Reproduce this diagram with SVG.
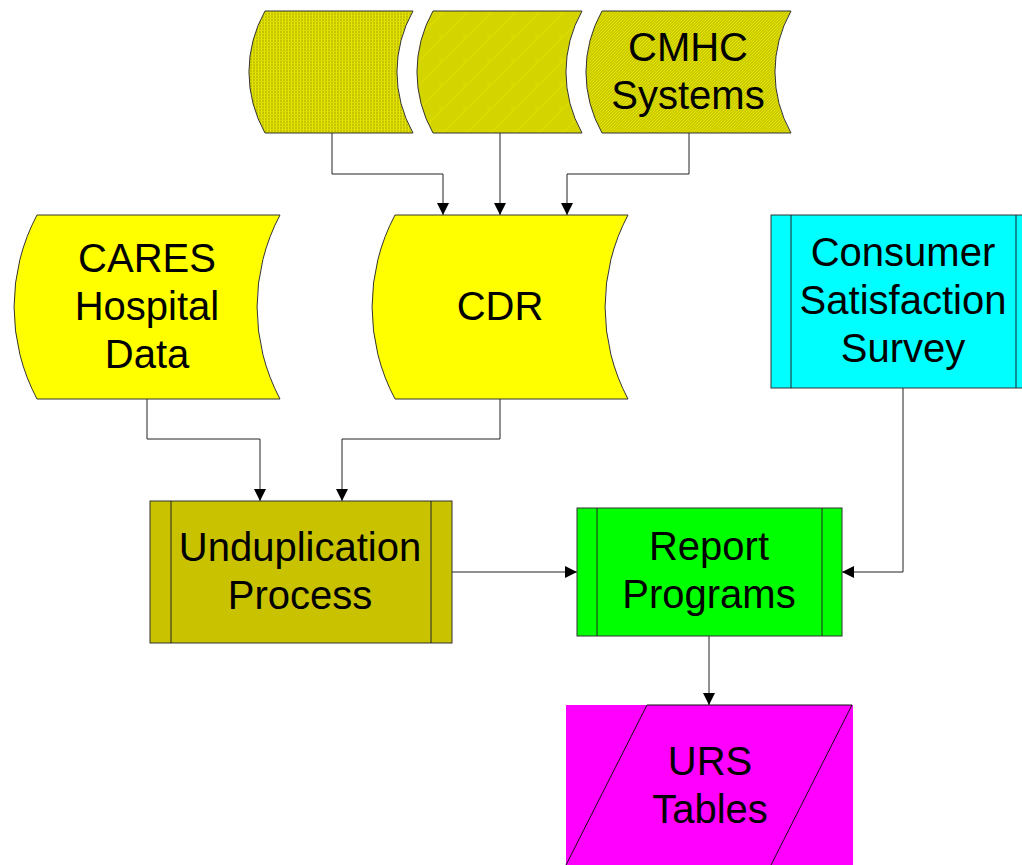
<svg xmlns="http://www.w3.org/2000/svg" width="1022" height="865" viewBox="0 0 1022 865">
<style>
.lbl{font-family:"Liberation Sans",Arial,sans-serif;font-size:40px;fill:#000;text-anchor:middle}
.sh{stroke:#333;stroke-width:1}
.in{stroke:#222;stroke-width:1;fill:none}
.cn{fill:none;stroke:#222;stroke-width:1}
</style>
<defs>
<marker id="arr" markerWidth="12" markerHeight="12" refX="12" refY="6" orient="auto" markerUnits="userSpaceOnUse">
<path d="M0,0 L12,6 L0,12 z" fill="#000"/>
</marker>
<pattern id="grid" width="3" height="3" patternUnits="userSpaceOnUse">
<rect width="3" height="3" fill="#C4C400"/>
<rect width="1" height="3" fill="#E8E800"/>
<rect width="3" height="1" fill="#DADA00"/>
</pattern>
<pattern id="weave" width="24" height="24" patternUnits="userSpaceOnUse">
<rect width="24" height="24" fill="#D4D400"/>
<path d="M0,24 L24,0 M-6,6 L6,-6 M18,30 L30,18" stroke="#DCDC00" stroke-width="1.5"/>
<path d="M6,12 l3,-3 l3,3 l-3,3 z" fill="#DADA00"/>
</pattern>
<pattern id="hatch" width="3" height="3" patternUnits="userSpaceOnUse">
<rect width="3" height="3" fill="#CACA00"/>
<path d="M0,3 L3,0" stroke="#E4E400" stroke-width="1"/>
</pattern>
</defs>

<g id="connectors">
<path class="cn" d="M332,133 V174 H443 V215" marker-end="url(#arr)"/>
<path class="cn" d="M500,133 V215" marker-end="url(#arr)"/>
<path class="cn" d="M689,133 V174 H567 V215" marker-end="url(#arr)"/>
<path class="cn" d="M147,399 V439 H260 V501" marker-end="url(#arr)"/>
<path class="cn" d="M500,399 V439 H342 V501" marker-end="url(#arr)"/>
<path class="cn" d="M452,572 H577" marker-end="url(#arr)"/>
<path class="cn" d="M903,388 V572 H842" marker-end="url(#arr)"/>
<path class="cn" d="M709,636 V705" marker-end="url(#arr)"/>
</g>

<g id="src1">
<path class="sh" fill="url(#grid)" d="M265,11 L413,11 A124,124 0 0,0 413,133 L265,133 A124,124 0 0,1 265,11 Z"/>
</g>
<g id="src2">
<path class="sh" fill="url(#weave)" d="M433,11 L582,11 A124,124 0 0,0 582,133 L433,133 A124,124 0 0,1 433,11 Z"/>
</g>
<g id="cmhc">
<path class="sh" fill="url(#hatch)" d="M602,11 L791,11 A124,124 0 0,0 791,133 L602,133 A124,124 0 0,1 602,11 Z"/>
<text class="lbl" x="688" y="61">CMHC</text>
<text class="lbl" x="688" y="109">Systems</text>
</g>

<g id="cares">
<path class="sh" fill="#FFFF00" d="M37,215 L280,215 A196,196 0 0,0 280,399 L37,399 A196,196 0 0,1 37,215 Z"/>
<text class="lbl" x="147" y="272">CARES</text>
<text class="lbl" x="147" y="320">Hospital</text>
<text class="lbl" x="147" y="368">Data</text>
</g>

<g id="cdr">
<path class="sh" fill="#FFFF00" d="M395,215 L628,215 A196,196 0 0,0 628,399 L395,399 A196,196 0 0,1 395,215 Z"/>
<text class="lbl" x="500" y="320">CDR</text>
</g>

<g id="survey">
<rect class="sh" x="771" y="215" width="265" height="173" fill="#00FFFF"/>
<line class="in" x1="791" y1="215" x2="791" y2="388"/>
<line class="in" x1="1016" y1="215" x2="1016" y2="388"/>
<text class="lbl" x="903" y="266">Consumer</text>
<text class="lbl" x="903" y="314">Satisfaction</text>
<text class="lbl" x="903" y="362">Survey</text>
</g>

<g id="undup">
<rect class="sh" x="150" y="501" width="302" height="142" fill="#C8C200"/>
<line class="in" x1="171" y1="501" x2="171" y2="643"/>
<line class="in" x1="431" y1="501" x2="431" y2="643"/>
<text class="lbl" x="300" y="561">Unduplication</text>
<text class="lbl" x="300" y="609">Process</text>
</g>

<g id="report">
<rect class="sh" x="577" y="508" width="265" height="128" fill="#00FF00"/>
<line class="in" x1="597" y1="508" x2="597" y2="636"/>
<line class="in" x1="822" y1="508" x2="822" y2="636"/>
<text class="lbl" x="709" y="560">Report</text>
<text class="lbl" x="709" y="608">Programs</text>
</g>

<g id="urs">
<rect x="566" y="705" width="287" height="170" fill="#FF00FF"/>
<path fill="none" stroke="#111" stroke-width="1" d="M566,865 L647,705 L852,705 L771,865"/>
<text class="lbl" x="710" y="775">URS</text>
<text class="lbl" x="710" y="823">Tables</text>
</g>
</svg>
